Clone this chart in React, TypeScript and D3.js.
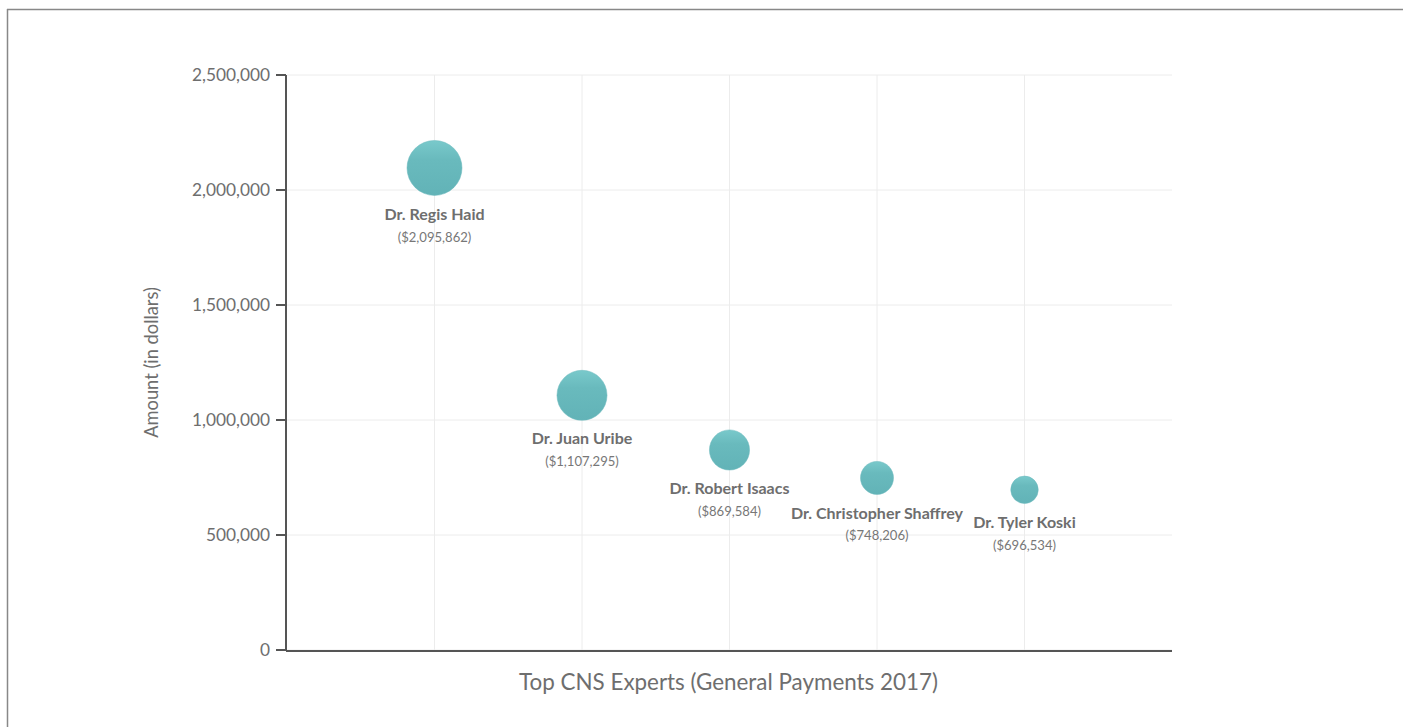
import React from "react";
import * as d3 from "d3";

const experts = ["Dr. Regis Haid", "Dr. Juan Uribe", "Dr. Robert Isaacs", "Dr. Christopher Shaffrey", "Dr. Tyler Koski"];
const amounts = [2095862, 1107295, 869584, 748206, 696534];
const bubbleWeight = [100, 91, 73, 60, 50];
const yTicks = [0, 500000, 1000000, 1500000, 2000000, 2500000];

const W = 1403;
const H = 727;
const left = 287;
const right = 1172;
const top = 75;
const bottom = 650;
const FONT = "Lato, 'Open Sans', sans-serif";

export default function App() {
  const x = d3.scaleLinear().domain([0, experts.length + 1]).range([left, right]);
  const y = d3.scaleLinear().domain([0, 2500000]).range([bottom, top]);
  const r = d3.scaleLinear().domain([0, d3.max(bubbleWeight) as number]).range([0, 27.5]);
  const fmt = d3.format(",");

  return (
    <div style={{ position: "absolute", left: 0, top: 0, width: W, height: H, overflow: "hidden" }}>
      <svg width={W} height={H} style={{ display: "block" }}>
        <defs>
          <linearGradient id="bub" x1="0" y1="0" x2="0" y2="1">
            <stop offset="0" stopColor="#79c9cb" />
            <stop offset="0.35" stopColor="#69babd" />
            <stop offset="1" stopColor="#62b3b7" />
          </linearGradient>
        </defs>
        <g>
          <line x1={7} x2={W} y1={9.5} y2={9.5} stroke="#888" strokeWidth={1.5} />
          <line x1={7.5} x2={7.5} y1={9} y2={H} stroke="#888" strokeWidth={1.5} />

          {yTicks.map((t) => (
            <line key={"g" + t} x1={left} x2={right} y1={y(t)} y2={y(t)} stroke="#ececec" strokeWidth={1} />
          ))}
          {experts.map((e, i) => (
            <line key={"v" + e} x1={x(i + 1)} x2={x(i + 1)} y1={top} y2={bottom} stroke="#ececec" strokeWidth={1} />
          ))}

          <line x1={left - 1} x2={left - 1} y1={top} y2={bottom + 1} stroke="#555" strokeWidth={2} />
          <line x1={left - 1} x2={right} y1={bottom + 1} y2={bottom + 1} stroke="#555" strokeWidth={2} />
          {yTicks.map((t) => (
            <g key={"t" + t}>
              <line x1={left - 11} x2={left - 1} y1={y(t)} y2={y(t)} stroke="#555" strokeWidth={2} />
              <text x={left - 17} y={y(t)} dy="0.35em" textAnchor="end" fontFamily={FONT} fontSize={17.3} fill="#6e6e6e">
                {fmt(t)}
              </text>
            </g>
          ))}

          <text
            transform={`translate(152,${(top + bottom) / 2}) rotate(-90)`}
            textAnchor="middle"
            dy="0.35em"
            fontFamily={FONT}
            fontSize={18.3}
            fill="#6e6e6e"
          >
            Amount (in dollars)
          </text>
          <text x={(left + right) / 2 - 1} y={682} dy="0.35em" textAnchor="middle" fontFamily={FONT} fontSize={22.4} fill="#6e6e6e">
            Top CNS Experts (General Payments 2017)
          </text>

          {experts.map((e, i) => {
            const cx = x(i + 1);
            const cy = y(amounts[i]);
            const rr = r(bubbleWeight[i]);
            return (
              <g key={e}>
                <circle cx={cx} cy={cy} r={rr} fill="url(#bub)" stroke="#6ab9bc" strokeWidth={0.5} />
                <text x={cx} y={cy + rr + 18.5} dy="0.35em" textAnchor="middle" fontFamily={FONT} fontWeight="bold" fontSize={16} fill="#6e6e6e">
                  {e}
                </text>
                <text x={cx} y={cy + rr + 41.5} dy="0.35em" textAnchor="middle" fontFamily={FONT} fontSize={13.1} fill="#777">
                  {"($" + fmt(amounts[i]) + ")"}
                </text>
              </g>
            );
          })}
        </g>
      </svg>
    </div>
  );
}
